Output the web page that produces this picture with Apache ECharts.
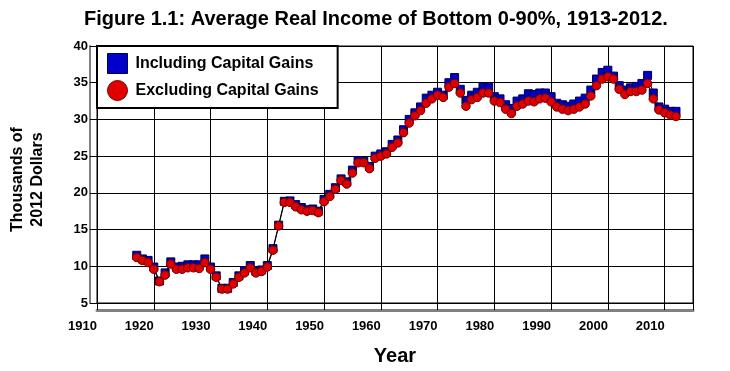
<!DOCTYPE html>
<html>
<head>
<meta charset="utf-8">
<script src="https://cdn.jsdelivr.net/npm/echarts@6/dist/echarts.min.js"></script>
<style>
html,body{margin:0;padding:0;background:#fff;}
#chart{width:730px;height:371px;}
</style>
</head>
<body>
<div id="chart"></div>
<script>
const years = [1917,1918,1919,1920,1921,1922,1923,1924,1925,1926,1927,1928,1929,1930,1931,1932,1933,1934,1935,1936,1937,1938,1939,1940,1941,1942,1943,1944,1945,1946,1947,1948,1949,1950,1951,1952,1953,1954,1955,1956,1957,1958,1959,1960,1961,1962,1963,1964,1965,1966,1967,1968,1969,1970,1971,1972,1973,1974,1975,1976,1977,1978,1979,1980,1981,1982,1983,1984,1985,1986,1987,1988,1989,1990,1991,1992,1993,1994,1995,1996,1997,1998,1999,2000,2001,2002,2003,2004,2005,2006,2007,2008,2009,2010,2011,2012];
const includingCG = [11.5,11.0,10.8,9.9,8.0,9.1,10.6,9.9,10.0,10.2,10.2,10.2,11.0,9.9,8.7,7.0,7.0,7.8,8.7,9.4,10.1,9.3,9.5,10.1,12.4,15.6,18.85,18.9,18.4,18.0,17.7,17.8,17.5,19.1,19.8,20.7,21.9,21.5,23.1,24.4,24.3,23.6,25.0,25.3,25.6,26.6,27.2,28.6,30.0,30.9,31.7,32.9,33.3,33.7,33.3,35.0,35.7,34.1,32.6,33.3,33.7,34.4,34.4,33.1,32.8,32.0,31.5,32.5,32.8,33.5,33.4,33.6,33.6,33.1,32.2,32.0,31.8,32.1,32.5,32.9,34.0,35.5,36.4,36.7,35.9,34.6,34.0,34.3,34.5,34.9,36.0,33.6,31.7,31.4,31.1,31.1];
const excludingCG = [11.2,10.8,10.5,9.6,7.9,8.8,10.3,9.6,9.6,9.8,9.8,9.7,10.5,9.6,8.5,6.9,6.9,7.6,8.5,9.1,9.8,9.1,9.3,9.9,12.2,15.5,18.7,18.7,18.1,17.7,17.5,17.6,17.3,18.8,19.5,20.5,21.7,21.2,22.7,24.1,24.1,23.3,24.7,25.0,25.3,26.2,26.8,28.2,29.5,30.5,31.2,32.2,32.8,33.3,33.0,34.4,34.9,33.6,31.8,32.7,33.0,33.6,33.6,32.5,32.3,31.4,30.8,31.8,32.1,32.5,32.4,32.8,32.9,32.4,31.7,31.4,31.2,31.4,31.7,32.1,33.2,34.6,35.5,35.8,35.5,34.1,33.4,33.8,33.8,34.0,34.9,32.8,31.3,30.9,30.6,30.4];
const seriesNames = ['Including Capital Gains','Excluding Capital Gains'];
const titleText = 'Figure 1.1: Average Real Income of Bottom 0-90%, 1913-2012.';
const xName = 'Year';
const yName = 'Thousands of\n2012 Dollars';

const FONT = '"Liberation Sans", Arial, sans-serif';
const pairs = (xs, ys) => xs.map((x, i) => [x, ys[i]]);

const chart = echarts.init(document.getElementById('chart'), null, {renderer: 'canvas'});
chart.setOption({
  animation: false,
  backgroundColor: '#fff',
  title: {
    text: titleText,
    left: 84, top: 9, padding: 0,
    textStyle: {fontFamily: FONT, fontWeight: 'bold', fontSize: 20, color: '#000'}
  },
  legend: {
    orient: 'vertical',
    left: 97, top: 46,
    padding: [7, 19, 7, 10],
    itemGap: 6, itemWidth: 20, itemHeight: 20,
    borderColor: '#000', borderWidth: 2, backgroundColor: '#fff',
    textStyle: {fontFamily: FONT, fontWeight: 'bold', fontSize: 16, color: '#000', padding: [0,0,0,3]},
    data: [
      {name: seriesNames[0], icon: 'rect', itemStyle: {color: '#0000c8', borderColor: '#000050', borderWidth: 1}},
      {name: seriesNames[1], icon: 'circle', itemStyle: {color: '#e00000', borderColor: '#700000', borderWidth: 1}}
    ]
  },
  grid: {
    left: 97, right: 37, top: 46, bottom: 67,
    show: true, borderColor: '#000', borderWidth: 1, backgroundColor: '#fff'
  },
  xAxis: {
    type: 'value', min: 1910, max: 2015, interval: 10,
    offset: 7,
    name: xName, nameLocation: 'middle', nameGap: 36,
    nameTextStyle: {fontFamily: FONT, fontWeight: 'bold', fontSize: 20, color: '#000'},
    axisLine: {show: true, lineStyle: {color: '#808080', width: 3}},
    axisTick: {show: true, inside: true, length: 7, lineStyle: {color: '#000', width: 1}},
    axisLabel: {
      fontFamily: FONT, fontWeight: 'bold', fontSize: 13, color: '#000',
      align: 'right', margin: 10,
      formatter: v => (v % 10 === 0 ? String(v) : '')
    },
    splitLine: {show: true, lineStyle: {color: '#000', width: 1}}
  },
  yAxis: {
    type: 'value', min: 5, max: 40, interval: 5,
    offset: 7,
    name: yName, nameLocation: 'middle', nameRotate: 90, nameGap: 42,
    nameTextStyle: {fontFamily: FONT, fontWeight: 'bold', fontSize: 16, lineHeight: 20, color: '#000', padding: [0, 10, 0, 0]},
    axisLine: {show: true, lineStyle: {color: '#808080', width: 2}},
    axisTick: {show: true, inside: true, length: 7, lineStyle: {color: '#000', width: 1}},
    axisLabel: {fontFamily: FONT, fontWeight: 'bold', fontSize: 13, color: '#000', margin: 2},
    splitLine: {show: true, lineStyle: {color: '#000', width: 1}}
  },
  series: [
    {
      name: seriesNames[0], type: 'line', data: pairs(years, includingCG),
      symbol: 'rect', symbolSize: 8, showAllSymbol: true,
      lineStyle: {color: '#000', width: 1},
      itemStyle: {color: '#0000c8', borderColor: '#000050', borderWidth: 1},
      z: 3
    },
    {
      name: seriesNames[1], type: 'line', data: pairs(years, excludingCG),
      symbol: 'circle', symbolSize: 8.5, showAllSymbol: true,
      lineStyle: {color: '#000', width: 1},
      itemStyle: {color: '#e00000', borderColor: '#700000', borderWidth: 1},
      z: 4
    }
  ]
});
</script>
</body>
</html>
